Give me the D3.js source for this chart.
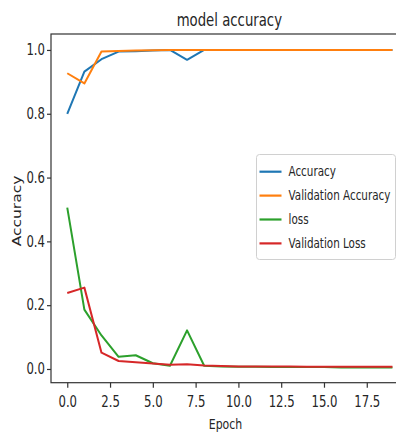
<!DOCTYPE html>
<html lang="en">
<head>
  <meta charset="utf-8">
  <title>model accuracy</title>
  <script src="https://cdn.jsdelivr.net/npm/d3@7/dist/d3.min.js"></script>
  <style>
    * { margin: 0; padding: 0; }
    body { background: #fff; overflow: hidden; }
    svg { display: block; }
    text { font-family: "DejaVu Sans", sans-serif; fill: #262626; }
  </style>
</head>
<body>
  <svg id="chart" width="396" height="432"></svg>
  <script>
    // values
    const epochs = d3.range(0, 20)
    const accuracy = [0.800, 0.932, 0.971, 0.995, 0.996, 0.998, 1.000, 0.969, 1.000, 1.000,
                      1.000, 1.000, 1.000, 1.000, 1.000, 1.000, 1.000, 1.000, 1.000, 1.000]
    const valAccuracy = [0.927, 0.895, 0.995, 0.997, 0.998, 0.999, 1.000, 1.000, 1.000, 1.000,
                         1.000, 1.000, 1.000, 1.000, 1.000, 1.000, 1.000, 1.000, 1.000, 1.000]
    const loss = [0.506, 0.186, 0.105, 0.038, 0.043, 0.018, 0.010, 0.121, 0.010, 0.008,
                  0.007, 0.007, 0.006, 0.006, 0.006, 0.006, 0.005, 0.005, 0.005, 0.005]
    const valLoss = [0.238, 0.255, 0.051, 0.025, 0.021, 0.017, 0.013, 0.015, 0.011, 0.009,
                     0.008, 0.008, 0.008, 0.008, 0.007, 0.007, 0.007, 0.007, 0.007, 0.007]
    const xTicks = [0, 2.5, 5, 7.5, 10, 12.5, 15, 17.5]
    const yTicks = [0, 0.2, 0.4, 0.6, 0.8, 1.0]

    const series = [
      { name: 'Accuracy', values: accuracy, color: '#1f77b4' },
      { name: 'Validation Accuracy', values: valAccuracy, color: '#ff7f0e' },
      { name: 'loss', values: loss, color: '#2ca02c' },
      { name: 'Validation Loss', values: valLoss, color: '#d62728' }
    ]

    // the picture is squeezed sideways, so text glyphs get narrowed too
    const SQUEEZE = 0.78
    function squeeze(sel) {
      sel.each(function () {
        const w = this.getComputedTextLength()
        d3.select(this).attr('textLength', w * SQUEEZE).attr('lengthAdjust', 'spacingAndGlyphs')
      })
    }

    const svg = d3.select('#chart')
    const pLeft = 51, pRight = 408.7, pTop = 34, pBottom = 382.7

    const x = d3.scaleLinear().domain([-0.95, 19.95]).range([pLeft, pRight])
    const y = d3.scaleLinear().domain([-0.043, 1.050]).range([pBottom, pTop])

    // lines
    const line = d3.line().x((d, i) => x(epochs[i])).y(d => y(d))
    svg.append('g')
      .selectAll('path')
      .data(series)
      .join('path')
      .attr('d', d => line(d.values))
      .attr('fill', 'none')
      .attr('stroke', d => d.color)
      .attr('stroke-width', 2)
      .attr('stroke-linejoin', 'round')

    // frame
    svg.append('rect')
      .attr('x', pLeft).attr('y', pTop)
      .attr('width', pRight - pLeft).attr('height', pBottom - pTop)
      .attr('fill', 'none').attr('stroke', '#333').attr('stroke-width', 1.2)

    const xAxis = svg.append('g')
      .attr('transform', 'translate(0,' + pBottom + ')')
      .call(d3.axisBottom(x).tickValues(xTicks).tickFormat(d3.format('.1f')).tickSize(5).tickPadding(9))
    const yAxis = svg.append('g')
      .attr('transform', 'translate(' + pLeft + ',0)')
      .call(d3.axisLeft(y).tickValues(yTicks).tickFormat(d3.format('.1f')).tickSize(4).tickPadding(2))

    for (const ax of [xAxis, yAxis]) {
      ax.select('.domain').remove()
      ax.selectAll('line').attr('stroke', '#333').attr('stroke-width', 1.2)
      ax.selectAll('text').attr('font-size', 15).attr('fill', '#262626')
        .attr('font-family', '"DejaVu Sans", sans-serif')
        .call(squeeze)
    }

    svg.append('text')
      .attr('x', (pLeft + pRight) / 2 - 0.5).attr('y', 26)
      .attr('text-anchor', 'middle').attr('font-size', 17)
      .text('model accuracy')
      .call(squeeze)

    svg.append('text')
      .attr('x', 225.5).attr('y', 429)
      .attr('text-anchor', 'middle').attr('font-size', 14)
      .text('Epoch')
      .call(squeeze)

    svg.append('g')
      .attr('transform', 'translate(21,211) scale(' + SQUEEZE + ',1) rotate(-90)')
      .append('text')
      .attr('text-anchor', 'middle').attr('font-size', 15.5)
      .text('Accuracy')

    // legend
    const lg = svg.append('g').attr('transform', 'translate(256.5,154.5)')
    lg.append('rect')
      .attr('width', 139).attr('height', 105).attr('rx', 3)
      .attr('fill', 'rgba(255,255,255,0.8)').attr('stroke', '#d0d0d0')
    const item = lg.selectAll('g.item')
      .data(series)
      .join('g')
      .attr('class', 'item')
      .attr('transform', (d, i) => 'translate(0,' + (17.2 + i * 23.9) + ')')
    item.append('line')
      .attr('x1', 3).attr('x2', 25)
      .attr('stroke', d => d.color).attr('stroke-width', 2.2)
    item.append('text')
      .attr('x', 32).attr('dy', '0.36em')
      .attr('font-size', 13.3)
      .text(d => d.name)
      .call(squeeze)
  </script>
</body>
</html>
